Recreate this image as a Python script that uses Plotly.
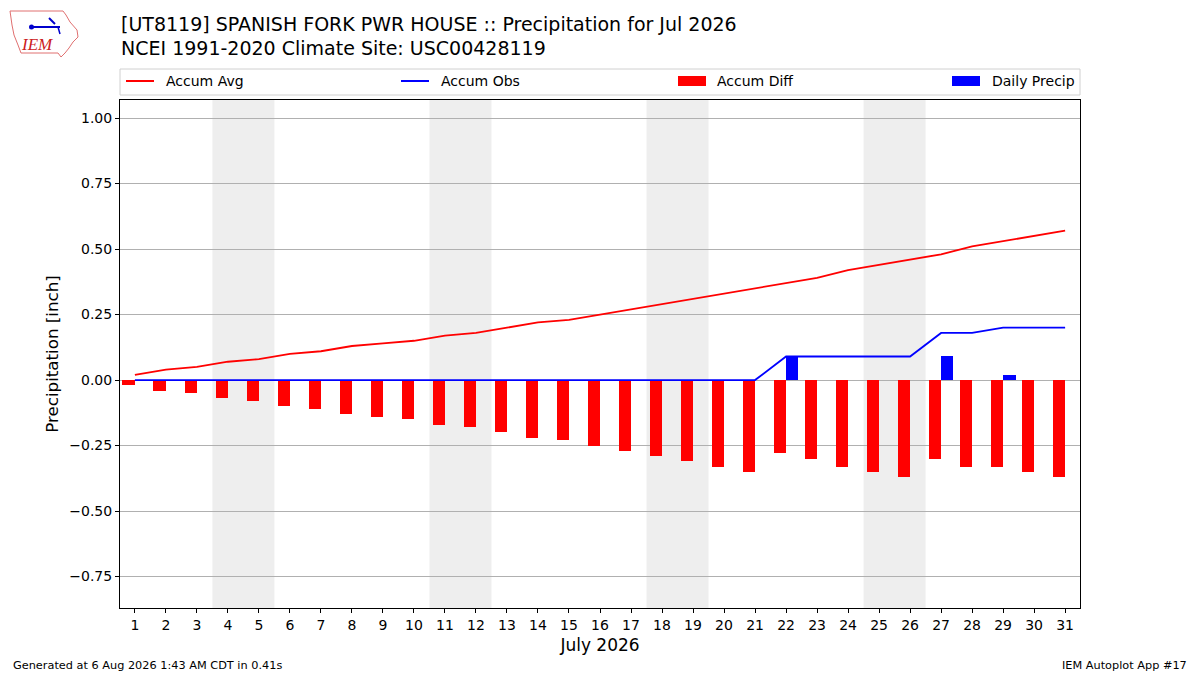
import plotly.graph_objects as go

days = list(range(1, 32))
accum_avg = [0.02, 0.04, 0.05, 0.07, 0.08, 0.10, 0.11, 0.13, 0.14, 0.15,
             0.17, 0.18, 0.20, 0.22, 0.23, 0.25, 0.27, 0.29, 0.31, 0.33,
             0.35, 0.37, 0.39, 0.42, 0.44, 0.46, 0.48, 0.51, 0.53, 0.55, 0.57]
accum_obs = [0.0] * 21 + [0.09, 0.09, 0.09, 0.09, 0.09, 0.18, 0.18, 0.20, 0.20, 0.20]
accum_diff = [-0.02, -0.04, -0.05, -0.07, -0.08, -0.10, -0.11, -0.13, -0.14, -0.15,
              -0.17, -0.18, -0.20, -0.22, -0.23, -0.25, -0.27, -0.29, -0.31, -0.33,
              -0.35, -0.28, -0.30, -0.33, -0.35, -0.37, -0.30, -0.33, -0.33, -0.35, -0.37]
daily_precip = [0.0] * 21 + [0.09, 0, 0, 0, 0, 0.09, 0, 0.02, 0, 0]
weekend_starts = [4, 11, 18, 25]
ytick_vals = [-0.75, -0.50, -0.25, 0.00, 0.25, 0.50, 0.75, 1.00]

title1 = "[UT8119] SPANISH FORK PWR HOUSE :: Precipitation for Jul 2026"
title2 = "NCEI 1991-2020 Climate Site: USC00428119"

FONT = "DejaVu Sans"
L, R, T, B = 120, 1080, 100, 608


def px(x):
    return (x - L) / (R - L)


def py(y):
    return (B - y) / (B - T)


fig = go.Figure()
fig.add_trace(go.Bar(x=days, y=accum_diff, width=0.4, offset=-0.4,
                     marker=dict(color="#ff0000", line=dict(width=0)),
                     name="Accum Diff", showlegend=False))
fig.add_trace(go.Bar(x=days, y=daily_precip, width=0.4, offset=0,
                     marker=dict(color="#0000ff", line=dict(width=0)),
                     name="Daily Precip", showlegend=False))
fig.add_trace(go.Scatter(x=days, y=accum_avg, mode="lines",
                         line=dict(color="#ff0000", width=1.8),
                         name="Accum Avg", showlegend=False))
fig.add_trace(go.Scatter(x=days, y=accum_obs, mode="lines",
                         line=dict(color="#0000ff", width=1.8),
                         name="Accum Obs", showlegend=False))

shapes = []
for s in weekend_starts:
    shapes.append(dict(type="rect", xref="x", yref="paper", x0=s - 0.5, x1=s + 1.5,
                       y0=0, y1=1, fillcolor="#eeeeee", line=dict(width=0),
                       layer="below"))

# legend box
shapes.append(dict(type="rect", xref="paper", yref="paper", x0=px(120), x1=px(1080),
                   y0=py(95), y1=py(69), line=dict(color="#d0d0d0", width=1),
                   fillcolor="rgba(255,255,255,0.8)"))
ly = 81
shapes.append(dict(type="line", xref="paper", yref="paper", x0=px(126), x1=px(154),
                   y0=py(ly), y1=py(ly), line=dict(color="#ff0000", width=2)))
shapes.append(dict(type="line", xref="paper", yref="paper", x0=px(401), x1=px(429),
                   y0=py(ly), y1=py(ly), line=dict(color="#0000ff", width=2)))
shapes.append(dict(type="rect", xref="paper", yref="paper", x0=px(678), x1=px(706),
                   y0=py(86), y1=py(76), fillcolor="#ff0000", line=dict(width=0)))
shapes.append(dict(type="rect", xref="paper", yref="paper", x0=px(952), x1=px(980),
                   y0=py(86), y1=py(76), fillcolor="#0000ff", line=dict(width=0)))

# logo outline
outline = [(10, 11), (63, 11), (66, 15), (70, 22), (77, 30), (78, 37), (73, 42),
           (69, 48), (65, 53), (61, 57), (58, 53), (21, 53), (18, 45), (14, 35),
           (12, 25)]
path = "M " + " L ".join(f"{px(a)},{py(b)}" for a, b in outline) + " Z"
shapes.append(dict(type="path", xref="paper", yref="paper", path=path,
                   line=dict(color="#e07070", width=1)))
shapes.append(dict(type="line", xref="paper", yref="paper", x0=px(31), x1=px(60),
                   y0=py(27), y1=py(27), line=dict(color="#0000cc", width=2)))
shapes.append(dict(type="circle", xref="paper", yref="paper", x0=px(29), x1=px(34),
                   y0=py(29.5), y1=py(24.5), fillcolor="#0000cc", line=dict(width=0)))
shapes.append(dict(type="line", xref="paper", yref="paper", x0=px(49), x1=px(55),
                   y0=py(18), y1=py(24), line=dict(color="#0000cc", width=2)))
shapes.append(dict(type="line", xref="paper", yref="paper", x0=px(58), x1=px(60),
                   y0=py(27), y1=py(34), line=dict(color="#0000cc", width=1.5)))

annotations = [
    dict(text=title1, x=px(119), y=py(24), xref="paper", yref="paper",
         xanchor="left", yanchor="middle", showarrow=False,
         font=dict(family=FONT, size=19, color="black")),
    dict(text=title2, x=px(119), y=py(48), xref="paper", yref="paper",
         xanchor="left", yanchor="middle", showarrow=False,
         font=dict(family=FONT, size=19, color="black")),
    dict(text="Generated at 6 Aug 2026 1:43 AM CDT in 0.41s", x=px(11), y=py(665),
         xref="paper", yref="paper", xanchor="left", yanchor="middle", showarrow=False,
         font=dict(family=FONT, size=11.3, color="black")),
    dict(text="IEM Autoplot App #17", x=px(1189), y=py(665),
         xref="paper", yref="paper", xanchor="right", yanchor="middle", showarrow=False,
         font=dict(family=FONT, size=11.3, color="black")),
    dict(text="<i>IEM</i>", x=px(37), y=py(45), xref="paper", yref="paper",
         xanchor="center", yanchor="middle", showarrow=False,
         font=dict(family="Liberation Serif", size=17, color="#cc2020")),
]
legend_items = [("Accum Avg", 165), ("Accum Obs", 440), ("Accum Diff", 716),
                ("Daily Precip", 991)]
for txt, x0 in legend_items:
    annotations.append(dict(text=txt, x=px(x0 - 1), y=py(81), xref="paper", yref="paper",
                            xanchor="left", yanchor="middle", showarrow=False,
                            font=dict(family=FONT, size=14, color="black")))

fig.update_layout(
    width=1200, height=675,
    margin=dict(l=L, r=1200 - R, t=T, b=675 - B),
    paper_bgcolor="white", plot_bgcolor="white",
    barmode="overlay", bargap=0,
    shapes=shapes, annotations=annotations,
    font=dict(family=FONT, size=14, color="black"),
    showlegend=False,
)
fig.update_xaxes(range=[0.52, 31.48], tickmode="array", tickvals=days,
                 ticktext=[str(d) for d in days], ticks="outside", ticklen=4,
                 tickcolor="black", showline=True, linecolor="black", linewidth=1,
                 mirror=True, showgrid=False, zeroline=False,
                 title=dict(text="July 2026", font=dict(family=FONT, size=17), standoff=7),
                 tickfont=dict(family=FONT, size=14))
fig.update_yaxes(range=[-0.87, 1.069], tickmode="array", tickvals=ytick_vals,
                 tickformat=".2f", ticks="outside", ticklen=4, tickcolor="black",
                 showline=True, linecolor="black", linewidth=1, mirror=True,
                 showgrid=True, gridcolor="#b0b0b0", gridwidth=1, zeroline=False,
                 title=dict(text="Precipitation [inch]", font=dict(family=FONT, size=16.7),
                            standoff=6),
                 tickfont=dict(family=FONT, size=14))

fig.write_html("out.html", config={"displayModeBar": False},
               post_script="document.body.style.margin='0';document.body.style.overflow='hidden';")
